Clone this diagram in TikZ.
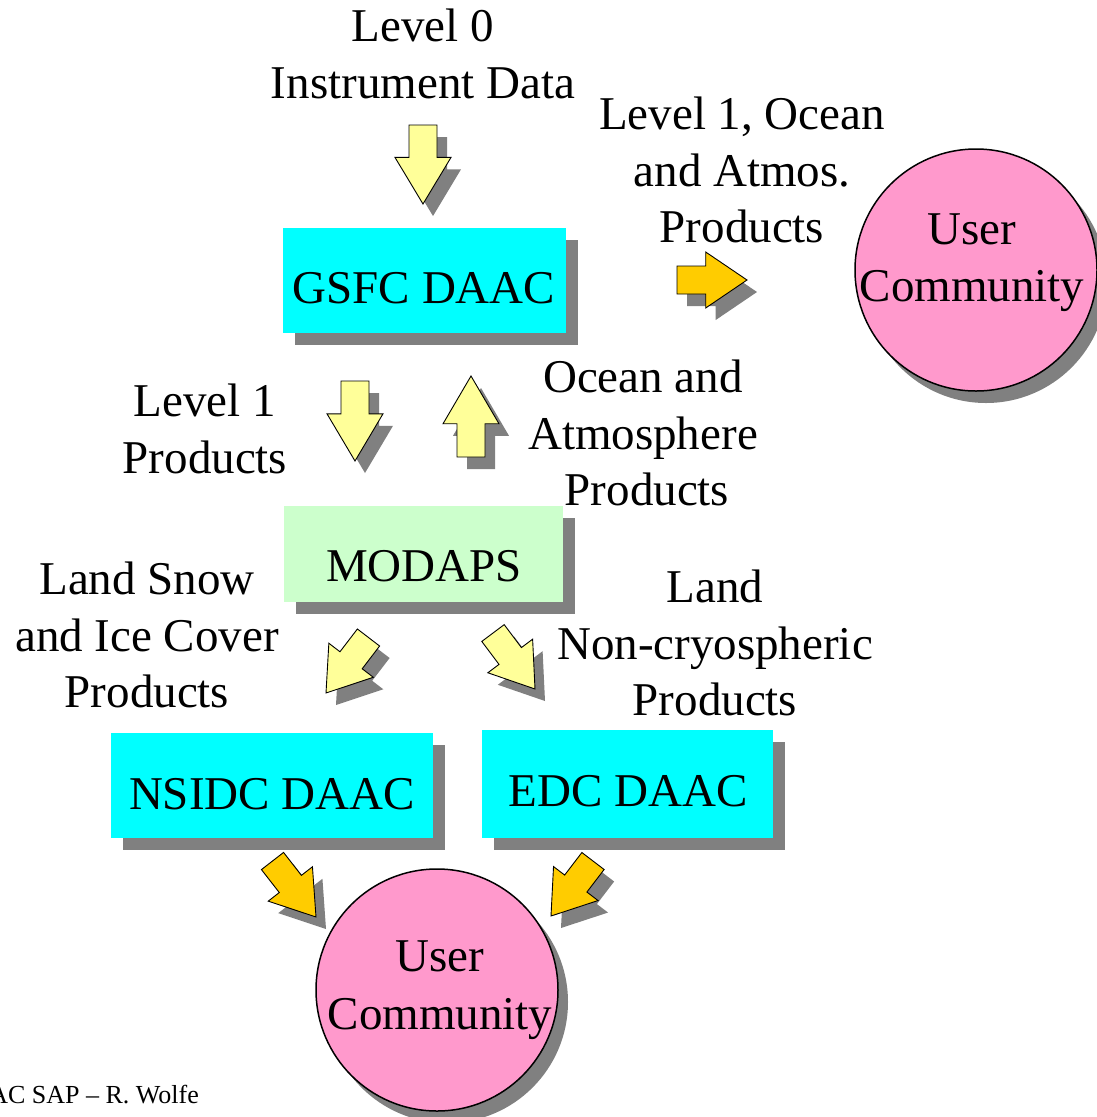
\documentclass[tikz,border=0pt]{standalone}
\usepackage{fontspec}
\setmainfont{Liberation Serif}
\usetikzlibrary{calc,shadows}
\definecolor{boxcyan}{RGB}{0,255,255}
\definecolor{modgreen}{RGB}{204,255,204}
\definecolor{yel}{RGB}{255,255,153}
\definecolor{org}{RGB}{255,204,0}
\definecolor{pinkc}{RGB}{255,153,204}
\definecolor{shad}{RGB}{128,128,128}
\newcommand{\arrowshape}[2]{($(#1)!14pt!90:(#2)$) -- ($(hb)!14pt!90:(#2)$) -- ($(hb)!28pt!90:(#2)$) -- (#2) -- ($(hb)!28pt!-90:(#2)$) -- ($(hb)!14pt!-90:(#2)$) -- ($(#1)!14pt!-90:(#2)$) -- cycle}
\newcommand{\blockarr}[3]{%
  \path ($(#1)!0.41!(#2)$) coordinate (hb);
  \fill[shad, transform canvas={xshift=10pt,yshift=-12pt}] \arrowshape{#1}{#2};
  \draw[blockline, fill=#3] \arrowshape{#1}{#2};}
\begin{document}
\begin{tikzpicture}[x=1pt,y=-1pt,
  lbl/.style={font=\fontsize{47}{57}\selectfont, inner sep=0pt, anchor=base, yshift=1.5pt},
  box/.style={rectangle, inner sep=0pt, draw=none,
    drop shadow={shadow xshift=12pt, shadow yshift=-12pt, fill=shad, opacity=1}},
  circ/.style={circle, inner sep=0pt, minimum size=242pt, fill=pinkc, draw=black, line width=1.5pt,
    drop shadow={shadow xshift=10pt, shadow yshift=-12pt, fill=shad, opacity=1}},
  blockline/.style={draw=black, line width=0.9pt, line join=miter}]
\useasboundingbox (0,0) rectangle (1097,1117);
\fill[white] (0,0) rectangle (1097,1117);

% boxes
\node[box, fill=boxcyan, minimum width=283pt, minimum height=105pt] (gsfc) at (424.5,280.5) {};
\node[box, fill=modgreen, minimum width=279pt, minimum height=96pt] (modaps) at (423.5,554) {};
\node[box, fill=boxcyan, minimum width=322pt, minimum height=105pt] (nsidc) at (272,785.5) {};
\node[box, fill=boxcyan, minimum width=291pt, minimum height=108pt] (edc) at (627.5,784) {};
\node[lbl] (gsfct) at (424,305) {GSFC DAAC};
\node[lbl] (modapst) at (424,583) {MODAPS};
\node[lbl] (nsidct) at (272,811) {NSIDC DAAC};
\node[lbl] (edct) at (628,808) {EDC DAAC};

% circles
\node[circ] (uc1) at (976,270) {};
\node[circ] (uc2) at (437,990) {};
\node[lbl] (uc1a) at (972,246) {User};
\node[lbl] (uc1b) at (972,303) {Community};
\node[lbl] (uc2a) at (440,973) {User};
\node[lbl] (uc2b) at (440,1031) {Community};

% labels
\node[lbl] (l0a) at (423,43) {Level 0};
\node[lbl] (l0b) at (423,100) {Instrument Data};
\node[lbl] (l1oa) at (742,131) {Level 1, Ocean};
\node[lbl] (l1ob) at (742,188) {and Atmos.};
\node[lbl] (l1oc) at (742,244) {Products};
\node[lbl] (l1a) at (205,418) {Level 1};
\node[lbl] (l1b) at (205,475) {Products};
\node[lbl] (oaa) at (643,394) {Ocean and};
\node[lbl] (oab) at (643,451) {Atmosphere};
\node[lbl] (oac) at (647,507) {Products};
\node[lbl] (lsa) at (147,596) {Land Snow};
\node[lbl] (lsb) at (147,653) {and Ice Cover};
\node[lbl] (lsc) at (147,709) {Products};
\node[lbl] (lna) at (715,604) {Land};
\node[lbl] (lnb) at (715,661) {Non-cryospheric};
\node[lbl] (lnc) at (715,717) {Products};
\node[font=\fontsize{26}{30}\selectfont, inner sep=0pt, anchor=base east] (foot) at (199,1103) {AC SAP – R. Wolfe};

% arrow coordinates
\coordinate (a0t) at (423,125); \coordinate (a0p) at (423,204);
\coordinate (aRt) at (677,280); \coordinate (aRp) at (747,280);
\coordinate (a1t) at (355,381); \coordinate (a1p) at (355,461);
\coordinate (aUt) at (471,457); \coordinate (aUp) at (471,376);
\coordinate (aSt) at (368.5,637.5); \coordinate (aSp) at (326,693);
\coordinate (aNt) at (493,633); \coordinate (aNp) at (535,689);
\coordinate (aB1t) at (272.5,861); \coordinate (aB1p) at (316,917);
\coordinate (aB2t) at (593,861); \coordinate (aB2p) at (551,916);

\blockarr{a0t}{a0p}{yel}
\blockarr{aRt}{aRp}{org}
\blockarr{a1t}{a1p}{yel}
\blockarr{aUt}{aUp}{yel}
\blockarr{aSt}{aSp}{yel}
\blockarr{aNt}{aNp}{yel}
\blockarr{aB1t}{aB1p}{org}
\blockarr{aB2t}{aB2p}{org}
\end{tikzpicture}
\end{document}
